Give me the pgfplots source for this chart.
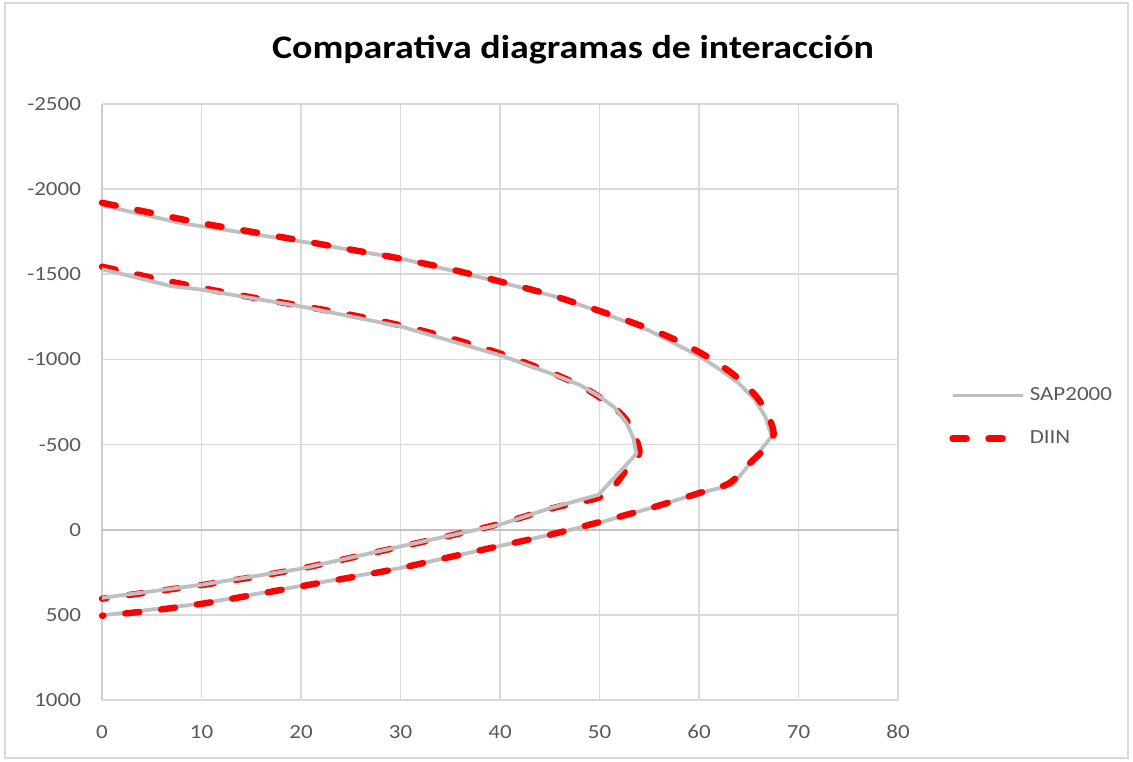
\documentclass[border=0pt]{standalone}
\usepackage{fontspec}
\setmainfont[FakeStretch=1.15]{Carlito}
\usepackage{pgfplots}
\pgfplotsset{compat=1.18}
\definecolor{sapgray}{HTML}{BFBFBF}
\definecolor{gridgray}{HTML}{D9D9D9}
\definecolor{ticktext}{HTML}{595959}
\definecolor{diinred}{HTML}{FF0000}
\begin{document}
\begin{tikzpicture}
\path[use as bounding box] (0,0) rectangle (566.5pt,380.5pt);
\draw[gridgray, line width=0.8pt] (2.5pt,1.5pt) rectangle (564pt,379pt);
\node[font=\fontsize{16.5}{18}\selectfont\bfseries, text=black] at (286.5pt,355.5pt) {Comparativa diagramas de interacción};
\begin{axis}[
  at={(51pt,30.5pt)}, anchor=south west,
  scale only axis, width=398pt, height=298pt,
  xmin=0, xmax=80, ymin=-2500, ymax=1000,
  y dir=reverse,
  xtick={0,10,...,80}, ytick={-2500,-2000,...,1000},
  axis line style={draw=none},
  major tick length=0pt,
  grid=major,
  major grid style={gridgray, line width=0.8pt},
  tick label style={font=\fontsize{10}{12}\selectfont, text=ticktext},
  /pgf/number format/assume math mode=true,
  /pgf/number format/1000 sep={},
  yticklabel style={xshift=-7pt},
  xticklabel style={yshift=-9pt},
  clip=false,
  legend style={at={(1.064,0.475)}, anchor=west, draw=none, fill=none,
    font=\fontsize{10}{12}\selectfont, text=ticktext, row sep=9.5pt,
    inner sep=0pt},
  legend cell align=left,
  legend image code/.code={\draw[#1] (0pt,0pt) -- (35pt,0pt);},
]
\draw[sapgray!80, line width=0.9pt] (axis cs:0,-2500) -- (axis cs:0,1000);
\draw[gridgray!90!black, line width=0.8pt] (axis cs:0,0) -- (axis cs:80,0);
% DIIN inner
\addplot[diinred, line width=3.2pt, line cap=round, dash pattern=on 7pt off 11pt, smooth, forget plot] coordinates {
(0,-1545) (5,-1480) (10,-1420) (15,-1365) (20,-1315) (25,-1262) (30,-1200) (35,-1125) (40,-1035) (45,-925) (48,-848) (50,-778) (52,-690) (53.2,-600) (54,-470) (53.7,-420) (52.7,-352) (50.6,-205) (47,-150) (45,-122) (40,-35) (35,35) (30,100) (25,165) (20,228) (15,280) (10,325) (5,365) (0,405)
};
% SAP inner
\addplot[sapgray, line width=1.9pt, line join=round] coordinates {
(0,-1530) (7,-1430) (10,-1410) (20,-1311) (30,-1194) (40,-1025) (45,-920) (48,-851) (50,-783) (51.5,-718) (52.7,-630) (53.4,-540) (53.7,-445) (49.9,-205) (45,-126) (40,-30) (30,98) (20,229) (10,323) (0,400)
};
\addlegendentry{SAP2000}
% SAP outer
\addplot[sapgray, line width=1.9pt, line join=round, forget plot] coordinates {
(0,-1905) (8,-1800) (20,-1693) (30,-1593) (40,-1455) (46,-1362) (50,-1280) (55,-1170) (60,-1020) (62,-945) (64,-860) (65.6,-765) (66.7,-660) (67.3,-548) (63.4,-264) (60,-215) (55,-125) (50,-41) (45,30) (40,95) (30,225) (20,330) (10,434) (0,503)
};
% DIIN outer
\addplot[diinred, line width=3.2pt, line cap=round, dash pattern=on 7pt off 11pt, smooth] coordinates {
(0,-1920) (5,-1860) (10,-1800) (15,-1750) (20,-1698) (25,-1645) (30,-1592) (35,-1530) (40,-1458) (45,-1380) (50,-1285) (55,-1180) (58,-1105) (61,-1010) (63.5,-910) (65.5,-800) (66.8,-690) (67.5,-560) (66.5,-470) (65,-385) (63,-272) (60,-215) (55,-125) (50,-45) (45,30) (40,95) (35,160) (30,225) (25,280) (20,332) (15,385) (10,435) (5,475) (0,505)
};
\addlegendentry{DIIN}
\end{axis}
\end{tikzpicture}
\end{document}
